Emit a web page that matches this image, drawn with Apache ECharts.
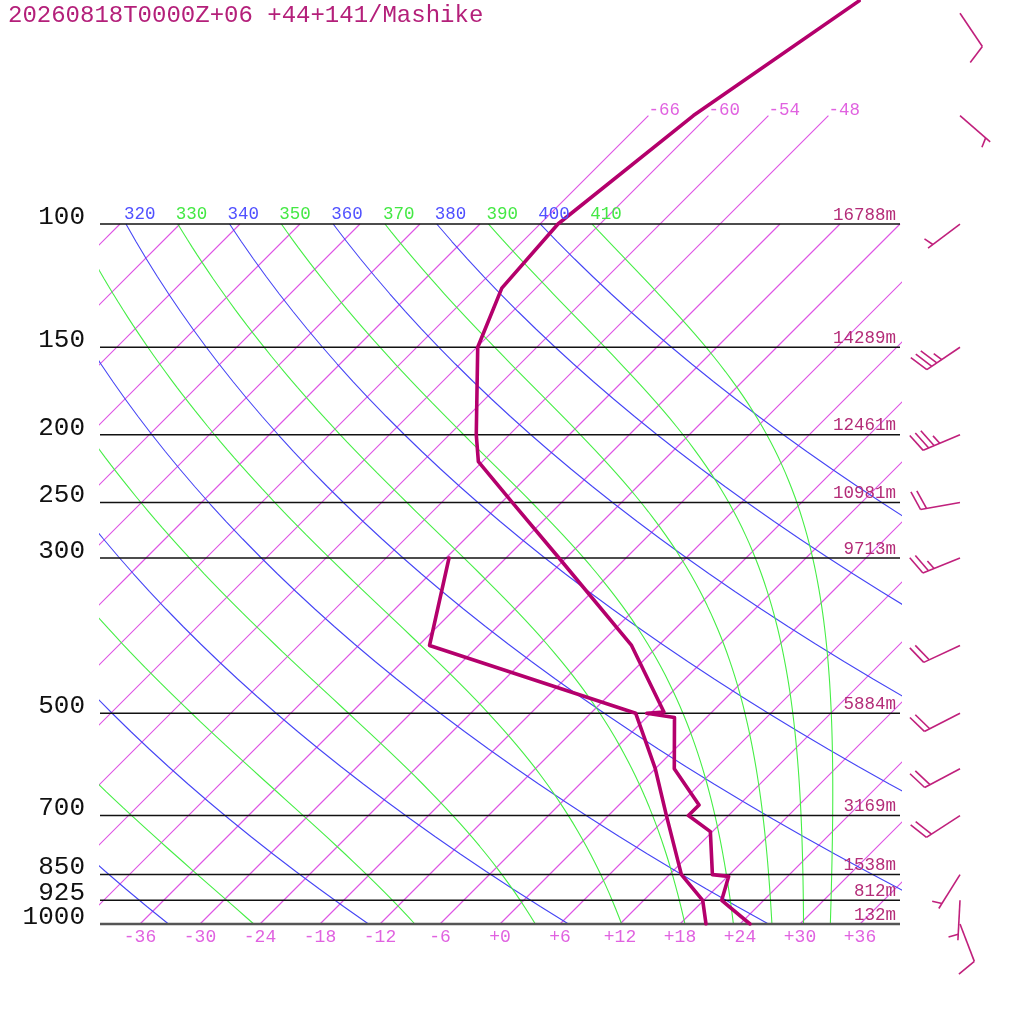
<!DOCTYPE html>
<html>
<head>
<meta charset="utf-8">
<script src="https://cdn.jsdelivr.net/npm/echarts@6/dist/echarts.min.js"></script>
<style>html,body{margin:0;padding:0;background:#fff}#c{width:1024px;height:1024px}</style>
</head>
<body>
<div id="c"></div>
<script>
// ---------------- data ----------------
const chartTitle = '20260818T0000Z+06 +44+141/Mashike';

// temperature profile (hPa, °C)
const tempPressure = [1000, 925, 855, 850, 738, 700, 676, 600, 507, 500, 498, 400, 300, 250, 218.5, 200, 150, 123.5, 100, 70, 48];
const tempValues   = [25.0, 19.8, 18.1, 16.3, 11.8, 8.0, 8.0, 1.9, -3.2, -6.4, -4.8, -14.7, -30.7, -40.9, -48.4, -51.3, -59.9, -63.4, -64.2, -61.5, -56.4];

// dew point profile (hPa, °C)
const dewPressure = [1000, 925, 850, 700, 600, 500, 400, 300];
const dewValues   = [20.6, 17.9, 13.2, 5.8, 0.0, -7.5, -34.9, -41.7];

// standard isobars and their geopotential heights
const isobarLevels  = [1000, 925, 850, 700, 500, 300, 250, 200, 150, 100];
const isobarHeights = ['132m', '812m', '1538m', '3169m', '5884m', '9713m', '10981m', '12461m', '14289m', '16788m'];

// temperature tick labels along the bottom (°C at 1000 hPa)
const tempTickLabels = [-36, -30, -24, -18, -12, -6, 0, 6, 12, 18, 24, 30, 36];

// isotherms (°C) and the ones that are labelled at the top
const isothermValues = [-108, -102, -96, -90, -84, -78, -72, -66, -60, -54, -48, -42, -36, -30, -24, -18, -12, -6, 0, 6, 12, 18, 24, 30, 36];
const labeledIsotherms = [-66, -60, -54, -48];
const isothermTopPressure = 70;

// dry adiabats (potential temperature, K) and moist adiabats (labelled by theta at 100 hPa, K)
const dryAdiabats   = [240, 260, 280, 300, 320, 340, 360, 380, 400];
const moistAdiabats = [250, 270, 290, 310, 330, 350, 370, 390, 410];

// winds
const windPressure = [50, 70, 100, 150, 200, 250, 300, 400, 500, 600, 700, 850, 925, 1000];
const windDir      = [146, 131, 233, 236, 247, 260, 248, 245, 243, 242, 237, 212, 183, 159];
const windSpeed    = [10, 5, 5, 35, 35, 20, 25, 20, 20, 20, 20, 5, 5, 10];

// ---------------- helpers ----------------
const SKEW = 30.4;               // skew of isotherms, °C per ln(p) unit
const KAPPA = 0.2857;
const skewX = (T, p) => T + SKEW * Math.log(1000 / p);
const FONT = '"Liberation Mono", "DejaVu Sans Mono", monospace';
const ISO_COLOR = 'rgb(222,86,228)';

function dryLine(theta) {
  const pts = [];
  const n = 40;
  for (let i = 0; i <= n; i++) {
    const p = Math.exp(Math.log(1000) + (Math.log(100) - Math.log(1000)) * i / n);
    const T = theta * Math.pow(p / 1000, KAPPA) - 273.15;
    pts.push([skewX(T, p), p]);
  }
  return pts;
}

function moistRate(T, p) {
  const Rd = 287.04, Cp = 1005.7, Lv = 2.501e6, eps = 0.622;
  const Tc = T - 273.15;
  const es = 6.112 * Math.exp(17.67 * Tc / (Tc + 243.5));
  const rs = eps * es / (p - es);
  return (Rd * T + Lv * rs) / (Cp + Lv * Lv * rs * eps / (Rd * T * T));
}

function moistLine(theta100) {
  let T = theta100 * Math.pow(100 / 1000, KAPPA);
  const n = 90;
  const a = Math.log(100), b = Math.log(1000), h = (b - a) / n;
  const pts = [];
  for (let i = 0; i <= n; i++) {
    const lp = a + i * h;
    const p = Math.exp(lp);
    pts.push([skewX(T - 273.15, p), p]);
    if (i < n) {
      const k1 = moistRate(T, p);
      const k2 = moistRate(T + 0.5 * h * k1, Math.exp(lp + 0.5 * h));
      const k3 = moistRate(T + 0.5 * h * k2, Math.exp(lp + 0.5 * h));
      const k4 = moistRate(T + h * k3, Math.exp(lp + h));
      T += h * (k1 + 2 * k2 + 2 * k3 + k4) / 6;
    }
  }
  return pts;
}

function textSeries(items, color, size, align, dx, dy, z) {
  return {
    type: 'custom', silent: true, z: z || 6, animation: false,
    data: items.map(it => [it[0], it[1]]),
    renderItem: (params, api) => {
      const pt = api.coord([api.value(0), api.value(1)]);
      return {
        type: 'text', x: pt[0] + dx, y: pt[1] + dy,
        style: { text: String(items[params.dataIndex][2]), fill: color, fontSize: size, fontFamily: FONT, align: align, verticalAlign: 'middle' }
      };
    }
  };
}

// ---------------- series ----------------
const series = [];

// isotherms
isothermValues.forEach(T => {
  const pTop = labeledIsotherms.includes(T) ? isothermTopPressure : 100;
  const pMid = Math.sqrt(1000 * pTop);
  series.push({
    type: 'line', silent: true, symbol: 'none', z: 2, animation: false,
    color: ISO_COLOR,
    itemStyle: { color: ISO_COLOR },
    data: [[skewX(T, 1000), 1000], [skewX(T, pMid), pMid], [skewX(T, pTop), pTop]],
    lineStyle: { color: ISO_COLOR, width: 1.15, opacity: 1 }
  });
});

dryAdiabats.forEach(th => {
  series.push({
    type: 'line', silent: true, symbol: 'none', z: 2, animation: false,
    data: dryLine(th), lineStyle: { color: '#4646f5', width: 1.1 }
  });
});

moistAdiabats.forEach(th => {
  series.push({
    type: 'line', silent: true, symbol: 'none', z: 2, animation: false,
    data: moistLine(th), lineStyle: { color: '#46ee46', width: 1.1 }
  });
});

// isobars with pressure and height labels
series.push({
  type: 'custom', silent: true, z: 3, animation: false,
  data: isobarLevels.map(p => [-40, p]),
  renderItem: (params, api) => {
    const i = params.dataIndex;
    const p = api.value(1);
    const a = api.coord([-40, p]);
    const b = api.coord([40, p]);
    const bottom = i === 0;
    return {
      type: 'group',
      children: [
        { type: 'line', shape: { x1: a[0], y1: a[1], x2: b[0], y2: b[1] },
          style: { stroke: bottom ? '#555' : '#111', lineWidth: bottom ? 2.4 : 1.5 } },
        { type: 'text', x: a[0] - 15, y: a[1] - 7,
          style: { text: String(isobarLevels[i]), fill: '#111', fontSize: 26, fontFamily: FONT, align: 'right', verticalAlign: 'middle' } },
        { type: 'text', x: b[0] - 4, y: a[1] - 9,
          style: { text: isobarHeights[i], fill: '#b42c78', fontSize: 17.5, fontFamily: FONT, align: 'right', verticalAlign: 'middle' } }
      ]
    };
  }
});

// profiles
series.push({
  type: 'line', silent: true, symbol: 'none', z: 5, animation: false,
  data: dewPressure.map((p, i) => [skewX(dewValues[i], p), p]),
  lineStyle: { color: '#b4006c', width: 3.6, join: 'round', cap: 'round' }
});
series.push({
  type: 'line', silent: true, symbol: 'none', z: 5, animation: false,
  data: tempPressure.map((p, i) => [skewX(tempValues[i], p), p]),
  lineStyle: { color: '#b4006c', width: 3.6, join: 'round', cap: 'round' }
});

// labels: isotherms at the top, adiabats along 100 hPa
const T100 = th => th * Math.pow(0.1, KAPPA) - 273.15;
series.push(textSeries(labeledIsotherms.map(T => [skewX(T, isothermTopPressure), isothermTopPressure, String(T)]), '#e062e0', 17.5, 'left', 0, -5));
series.push(textSeries(dryAdiabats.filter(th => skewX(T100(th), 100) >= -40).map(th => [skewX(T100(th), 100), 100, th]), '#5050ff', 17.5, 'left', -2, -10));
series.push(textSeries(moistAdiabats.filter(th => skewX(T100(th), 100) >= -40).map(th => [skewX(T100(th), 100), 100, th]), '#44e844', 17.5, 'left', -2, -10));

// wind barbs
series.push({
  type: 'custom', silent: true, z: 6, animation: false,
  data: windPressure.map((p, i) => [40, p, windDir[i], windSpeed[i]]),
  renderItem: (params, api) => {
    const c = api.coord([api.value(0), api.value(1)]);
    const ax = c[0] + 60, ay = c[1];
    const d = api.value(2) * Math.PI / 180;
    const s = api.value(3);
    const ux = Math.sin(d), uy = -Math.cos(d);
    const nx = -uy, ny = ux;
    const L = 40, step = 6;
    const tx = ax + L * ux, ty = ay + L * uy;
    const st = { stroke: '#c0207c', lineWidth: 1.6 };
    const ch = [{ type: 'line', shape: { x1: ax, y1: ay, x2: tx, y2: ty }, style: st }];
    const full = Math.floor(s / 10);
    const half = (s % 10) >= 5;
    let k = (full === 0 && half) ? 1 : 0;
    for (let f = 0; f < full; f++, k++) {
      const bx = tx - step * k * ux, by = ty - step * k * uy;
      ch.push({ type: 'line', shape: { x1: bx, y1: by, x2: bx + 6.5 * ux + 19 * nx, y2: by + 6.5 * uy + 19 * ny }, style: st });
    }
    if (half) {
      const bx = tx - step * k * ux, by = ty - step * k * uy;
      ch.push({ type: 'line', shape: { x1: bx, y1: by, x2: bx + 3.3 * ux + 9.5 * nx, y2: by + 3.3 * uy + 9.5 * ny }, style: st });
    }
    return { type: 'group', children: ch };
  }
});

const chart = echarts.init(document.getElementById('c'), null, { renderer: 'canvas' });
chart.setOption({
  animation: false,
  backgroundColor: '#fff',
  title: {
    text: chartTitle, left: 8, top: 4, padding: 0,
    textStyle: { fontFamily: FONT, fontSize: 24, fontWeight: 'normal', color: '#b4207a' }
  },
  grid: { left: 100, right: 124, top: 0, bottom: 100, containLabel: false },
  xAxis: {
    type: 'value', min: -40, max: 40,
    axisLine: { show: false }, axisTick: { show: false }, splitLine: { show: false },
    axisLabel: {
      customValues: tempTickLabels, margin: 4,
      formatter: v => (v >= 0 ? '+' + v : String(v)),
      color: '#e062e0', fontFamily: FONT, fontSize: 18
    }
  },
  yAxis: {
    type: 'log', inverse: true, min: 47.86, max: 1000, logBase: 10,
    axisLine: { show: false }, axisTick: { show: false }, splitLine: { show: false },
    axisLabel: { show: false }
  },
  series: series
});
</script>
</body>
</html>
